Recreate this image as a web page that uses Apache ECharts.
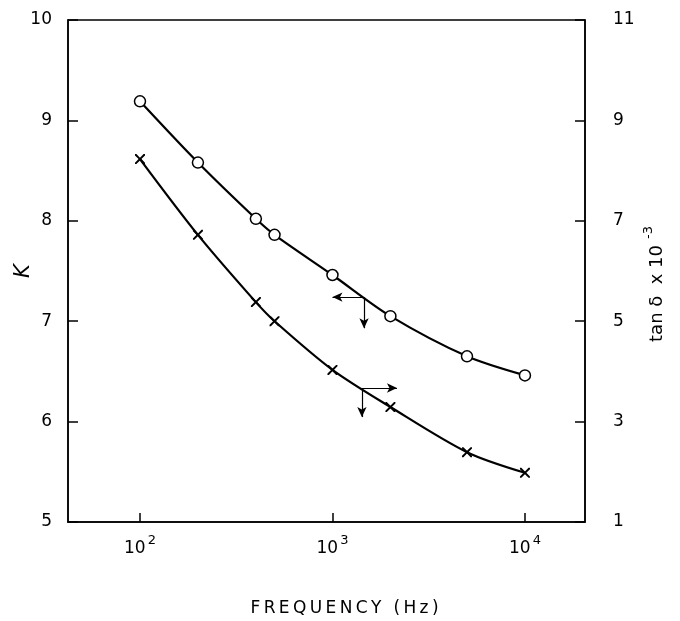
<!DOCTYPE html>
<html>
<head>
<meta charset="utf-8">
<script src="https://cdn.jsdelivr.net/npm/echarts@6/dist/echarts.min.js"></script>
<style>html,body{margin:0;padding:0;background:#fff}#c{width:680px;height:621px}</style>
</head>
<body>
<div id="c"></div>
<script>
// Frequencies (Hz)
var freqs = [100, 200, 400, 500, 1000, 2000, 5000, 10000];
// Dielectric constant K (left axis, circles)
var kValues = [9.19, 8.58, 8.02, 7.86, 7.46, 7.05, 6.65, 6.46];
// tan delta x 10^-3 (right axis, crosses)
var tanValues = [8.23, 6.72, 5.38, 5.0, 4.03, 3.29, 2.39, 1.98];
// x tick exponents (10^n)
var xTickExps = [2, 3, 4];
// Arrow annotations: [freq, value] pairs (start -> end)
var kArrows = [[[1459, 7.24], [1000, 7.24]], [[1459, 7.24], [1459, 6.93]]];
var tanArrows = [[[1422, 3.67], [2163, 3.67]], [[1422, 3.67], [1422, 3.09]]];

var lg = function (f) { return Math.log10(f); };
var kData = freqs.map(function (f, i) { return [lg(f), kValues[i]]; });
var tanData = freqs.map(function (f, i) { return [lg(f), tanValues[i]]; });
function arrowLines(arr) {
  return arr.map(function (a) {
    return [{ coord: [lg(a[0][0]), a[0][1]] }, { coord: [lg(a[1][0]), a[1][1]] }];
  });
}
var crossPath = 'path://M0,0 L1.4,0 L5,3.6 L8.6,0 L10,0 L10,1.4 L6.4,5 L10,8.6 L10,10 L8.6,10 L5,6.4 L1.4,10 L0,10 L0,8.6 L3.6,5 L0,1.4 Z';
var FONT = 'DejaVu Sans';
var chart = echarts.init(document.getElementById('c'));
chart.setOption({
  animation: false,
  backgroundColor: '#fff',
  grid: { left: 68, right: 95, top: 20, bottom: 99, containLabel: false, outerBoundsMode: 'none', show: true, borderColor: '#000', borderWidth: 1.5, backgroundColor: 'transparent' },
  xAxis: {
    type: 'value', min: 1.626, max: 4.312,
    axisLine: { show: true, lineStyle: { color: '#000', width: 1.5 } },
    axisTick: { show: true, inside: true, length: 9, customValues: xTickExps, lineStyle: { color: '#000', width: 1.5 } },
    splitLine: { show: false },
    axisLabel: {
      customValues: xTickExps, margin: 12, color: '#000', fontFamily: FONT,
      formatter: function (v) { return '{b|10}{s|' + v + '}'; },
      rich: {
        b: { fontSize: 17, fontFamily: FONT, color: '#000', lineHeight: 20 },
        s: { fontSize: 13, fontFamily: FONT, color: '#000', padding: [0, 0, 16, 2] }
      }
    },
    name: 'F\u2009R\u2009E\u2009Q\u2009U\u2009E\u2009N\u2009C\u2009Y\u2002\u2009(\u2009H\u2009z\u2009)',
    nameLocation: 'middle', nameGap: 78, nameMoveOverlap: false,
    nameTextStyle: { fontSize: 17, fontFamily: FONT, color: '#000', padding: [0, 0, 0, 36] }
  },
  yAxis: [
    {
      type: 'value', min: 5, max: 10, interval: 1, position: 'left',
      axisLine: { show: true, lineStyle: { color: '#000', width: 1.5 } },
      axisTick: { show: true, inside: true, length: 10, lineStyle: { color: '#000', width: 1.5 } },
      splitLine: { show: false },
      axisLabel: { fontSize: 17, fontFamily: FONT, color: '#000', margin: 16 },
      name: 'K', nameLocation: 'middle', nameGap: 34, nameRotate: 90, nameMoveOverlap: false,
      nameTextStyle: { fontSize: 21, fontStyle: 'italic', fontFamily: FONT, color: '#000' }
    },
    {
      type: 'value', min: 1, max: 11, interval: 2, position: 'right',
      axisLine: { show: true, lineStyle: { color: '#000', width: 1.5 } },
      axisTick: { show: true, inside: true, length: 10, lineStyle: { color: '#000', width: 1.5 } },
      splitLine: { show: false },
      axisLabel: { fontSize: 17, fontFamily: FONT, color: '#000', margin: 28 },
      name: '{t|tan \u03b4  x 10}{s|-3}', nameLocation: 'middle', nameGap: 57, nameRotate: 90, nameMoveOverlap: false,
      nameTextStyle: {
        color: '#000', fontFamily: FONT, padding: [0, 26, 0, 0],
        rich: {
          t: { fontSize: 18, fontFamily: FONT, color: '#000', lineHeight: 22 },
          s: { fontSize: 13, fontFamily: FONT, color: '#000', padding: [0, 0, 18, 6] }
        }
      }
    }
  ],
  series: [
    {
      name: 'K', type: 'line', yAxisIndex: 0, data: kData, smooth: 0.3,
      symbol: 'circle', symbolSize: 11, showAllSymbol: true,
      lineStyle: { color: '#000', width: 2.2 },
      itemStyle: { color: '#fff', borderColor: '#000', borderWidth: 1.5 },
      markLine: {
        silent: true, symbol: ['none', 'arrow'], symbolSize: [7, 10],
        label: { show: false },
        lineStyle: { color: '#000', width: 1.2, type: 'solid' },
        data: arrowLines(kArrows)
      }
    },
    {
      name: 'tan', type: 'line', yAxisIndex: 1, data: tanData, smooth: 0.3,
      symbol: crossPath, symbolSize: 10, showAllSymbol: true,
      lineStyle: { color: '#000', width: 2.2 },
      itemStyle: { color: '#000', borderWidth: 0 },
      markLine: {
        silent: true, symbol: ['none', 'arrow'], symbolSize: [7, 10],
        label: { show: false },
        lineStyle: { color: '#000', width: 1.2, type: 'solid' },
        data: arrowLines(tanArrows)
      }
    }
  ]
});
</script>
</body>
</html>
